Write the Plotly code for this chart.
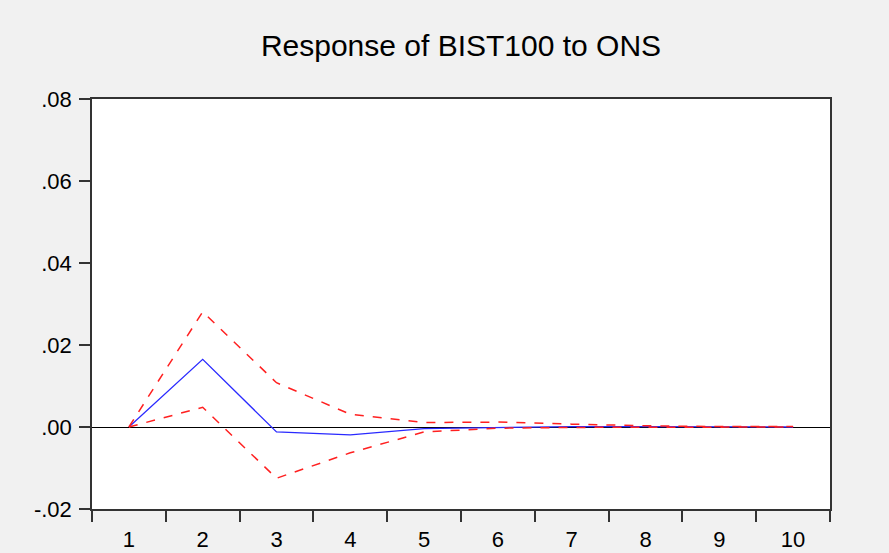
import plotly.graph_objects as go

periods = ["1", "2", "3", "4", "5", "6", "7", "8", "9", "10"]
response = [0.0, 0.0165, -0.0012, -0.0019, -0.0004, -0.0001, 0.0001, 0.0001, 0.0000, 0.0000]
upper = [0.0, 0.0281, 0.0108, 0.0031, 0.0011, 0.0012, 0.0007, 0.0003, 0.0001, 0.0001]
lower = [0.0, 0.0048, -0.0125, -0.0063, -0.0012, -0.0003, -0.0001, -0.0001, -0.0001, 0.0000]

y_tickvals = [-0.02, 0.0, 0.02, 0.04, 0.06, 0.08]
y_ticktext = ["-.02", ".00", ".02", ".04", ".06", ".08"]

title_text = "Response of BIST100 to ONS"

fig = go.Figure()
fig.add_trace(go.Scatter(x=periods, y=response, mode="lines",
                         line=dict(color="#2a2aff", width=1.3), showlegend=False))
fig.add_trace(go.Scatter(x=periods, y=upper, mode="lines",
                         line=dict(color="#ff2020", width=1.5, dash="dash"), showlegend=False))
fig.add_trace(go.Scatter(x=periods, y=lower, mode="lines",
                         line=dict(color="#ff2020", width=1.5, dash="dash"), showlegend=False))

fig.update_layout(
    width=889, height=553,
    margin=dict(l=92, r=59, t=99, b=44),
    paper_bgcolor="#f1f1f1",
    plot_bgcolor="white",
    font=dict(family="Liberation Sans, Arial, sans-serif", size=22, color="black"),
    title=dict(text=title_text, xref="paper", x=0.5, xanchor="center", y=0.917, yanchor="middle",
               font=dict(size=30, color="black")),
    xaxis=dict(type="category", range=[-0.5, 9.5], tickson="boundaries", ticks="outside", ticklen=11,
               tickcolor="#333", tickwidth=1.5, showline=True, linecolor="#333", linewidth=1.5,
               mirror=True, showgrid=False, zeroline=False, ticklabelstandoff=10,
               automargin=False, tickfont=dict(size=22)),
    yaxis=dict(range=[-0.02, 0.08], tickmode="array", tickvals=y_tickvals, ticktext=y_ticktext,
               ticks="outside", ticklen=11, tickcolor="#333", tickwidth=1.5,
               showline=True, linecolor="#333", linewidth=1.5, mirror=True,
               showgrid=False, zeroline=True, zerolinecolor="black", zerolinewidth=1,
               ticklabelstandoff=3, automargin=False, tickfont=dict(size=22)),
)

fig.write_html("out.html", config={"displayModeBar": False},
               post_script="document.body.style.margin='0';")
